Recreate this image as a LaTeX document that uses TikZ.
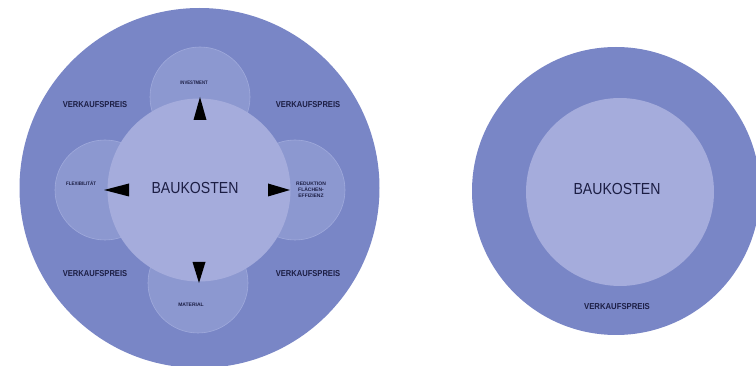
\documentclass[tikz,border=0pt]{standalone}
\usepackage{fontspec}
\setmainfont{Liberation Sans}
\usetikzlibrary{calc}
\definecolor{outerc}{RGB}{121,134,198}
\definecolor{smallc}{RGB}{140,152,208}
\definecolor{smalle}{RGB}{160,170,220}
\definecolor{innerc}{RGB}{165,172,220}
\definecolor{txtc}{RGB}{28,30,68}
\tikzset{
  ring/.style={circle, fill=outerc, inner sep=0pt},
  petal/.style={circle, fill=smallc, draw=smalle, line width=0.6pt, inner sep=0pt, minimum size=100pt},
  core/.style={circle, fill=innerc, inner sep=0pt},
  bigtxt/.style={text=txtc, font=\fontsize{16}{18}\selectfont, inner sep=0pt},
  midtxt/.style={text=txtc, font=\bfseries\fontsize{8.6}{10}\selectfont, inner sep=0pt},
  tinytxt/.style={text=txtc, font=\bfseries\fontsize{5}{5.8}\selectfont, inner sep=0pt, align=center}
}
\begin{document}
\begin{tikzpicture}[x=1pt,y=-1pt]
\useasboundingbox (0,0) rectangle (756,366);
% left diagram
\node[ring, minimum size=360pt] (outerL) at (199.5,188) {};
\node[petal] (pTop) at (200,97) {};
\node[petal] (pLeft) at (105,190) {};
\node[petal] (pRight) at (295,190) {};
\node[petal] (pBot) at (198,283) {};
\node[core, minimum size=183pt] (coreL) at (199,190) {};
% arrows
\fill (200,97) -- (193.5,120) -- (206.5,120) -- cycle;
\fill (104,190) -- (129,183.5) -- (129,196.5) -- cycle;
\fill (290,190) -- (268,183.5) -- (268,196.5) -- cycle;
\fill (199,283) -- (192.5,262) -- (205.5,262) -- cycle;
% texts
\node[bigtxt] (tL) at (195,188) {\scalebox{0.88}[1]{BAUKOSTEN}};
\node[midtxt] (v1) at (95,105) {\scalebox{0.88}[1]{VERKAUFSPREIS}};
\node[midtxt] (v2) at (308,105) {\scalebox{0.88}[1]{VERKAUFSPREIS}};
\node[midtxt] (v3) at (95,274) {\scalebox{0.88}[1]{VERKAUFSPREIS}};
\node[midtxt] (v4) at (308,274) {\scalebox{0.88}[1]{VERKAUFSPREIS}};
\node[tinytxt] (sTop) at (194,83) {\scalebox{0.85}[1]{INVESTMENT}};
\node[tinytxt] (sLeft) at (81,183) {\scalebox{0.9}[1]{FLEXIBILITÄT}};
\node[tinytxt] (sRight) at (311,190) {REDUKTION\\FLÄCHEN-\\EFFIZIENZ};
\node[tinytxt] (sBot) at (191,305) {MATERIAL};
% right diagram
\node[ring, minimum size=288pt] (outerR) at (616,191) {};
\node[core, minimum size=188pt] (coreR) at (620,192) {};
\node[bigtxt] (tR) at (617,189) {\scalebox{0.88}[1]{BAUKOSTEN}};
\node[midtxt] (vR) at (617,307) {\scalebox{0.9}[1]{VERKAUFSPREIS}};
\end{tikzpicture}
\end{document}
